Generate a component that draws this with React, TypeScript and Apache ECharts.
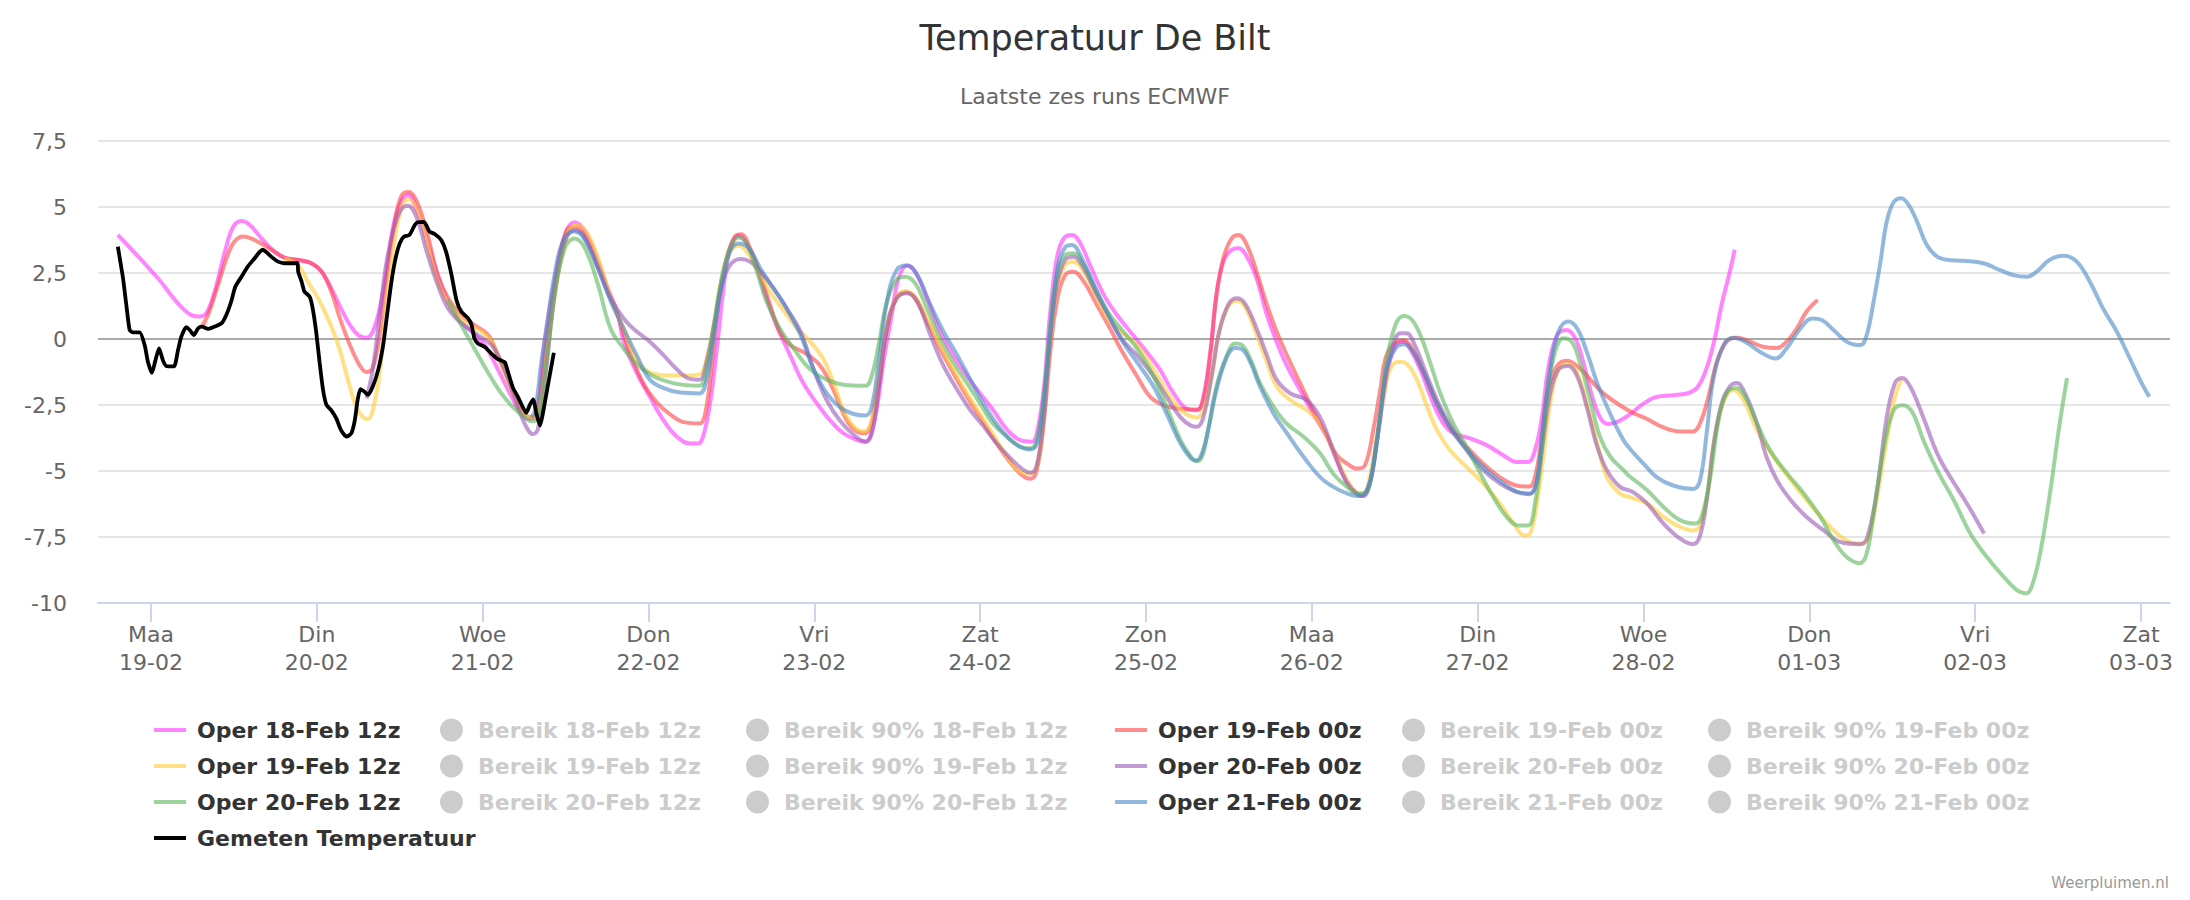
import React, { useEffect, useRef } from "react";
import * as echarts from "echarts";

const FONT = "'DejaVu Sans', 'Noto Sans', sans-serif";

// x values: hours since Mon 19-02 00:00 (local)
const dayNames = ["Maa", "Din", "Woe", "Don", "Vri", "Zat", "Zon", "Maa", "Din", "Woe", "Don", "Vri", "Zat"];
const dayDates = ["19-02", "20-02", "21-02", "22-02", "23-02", "24-02", "25-02", "26-02", "27-02", "28-02", "01-03", "02-03", "03-03"];
const tickHours = [0, 24, 48, 72, 96, 120, 144, 168, 192, 216, 240, 264, 288];

const runNames = ["18-Feb 12z", "19-Feb 00z", "19-Feb 12z", "20-Feb 00z", "20-Feb 12z", "21-Feb 00z"];

const gemeten: [number, number][] = [
  [-4.8, 3.5], [-4.05, 2.3], [-3.57, 1.29], [-3.09, 0.34], [-2.6, 0.25], [-1.64, 0.25], [-0.92, -0.23], [-0.43, -0.88],
  [0.14, -1.28], [0.63, -0.82], [1.16, -0.36], [1.74, -0.82], [2.2, -1.02], [3.33, -1.04], [3.9, -0.43], [4.39, 0.09],
  [5.1, 0.45], [5.6, 0.34], [6.22, 0.15], [6.8, 0.4], [7.38, 0.47], [8.25, 0.38], [9.2, 0.47], [10.2, 0.59], [10.9, 0.91],
  [11.6, 1.41], [12.2, 1.98], [13.1, 2.36], [14.0, 2.74], [15.0, 3.06], [15.7, 3.29], [16.2, 3.38], [16.7, 3.29],
  [17.4, 3.12], [18.4, 2.93], [19.3, 2.87], [21.2, 2.87], [21.3, 2.55], [21.8, 2.17], [22.2, 1.8], [22.97, 1.6],
  [23.4, 1.16], [23.9, 0.28], [24.4, -0.88], [24.9, -1.93], [25.4, -2.5], [26.1, -2.7], [26.8, -3.0], [27.5, -3.45],
  [28.3, -3.7], [29.0, -3.57], [29.5, -3.07], [29.9, -2.32], [30.3, -1.9], [30.9, -2.0], [31.4, -2.12], [32.1, -1.8],
  [32.9, -1.15], [33.6, -0.23], [34.1, 0.78], [34.8, 2.17], [35.4, 3.06], [36.0, 3.62], [36.6, 3.88], [37.4, 3.94],
  [38.2, 4.33], [38.6, 4.42], [39.5, 4.44], [40.3, 4.07], [41.1, 3.97], [42.0, 3.75], [42.7, 3.31], [43.5, 2.42],
  [44.2, 1.48], [44.9, 1.04], [45.9, 0.78], [46.4, 0.53], [46.8, 0.03], [47.3, -0.17], [48.3, -0.3], [49.3, -0.56],
  [50.2, -0.76], [51.2, -0.88], [51.7, -1.28], [52.4, -1.86], [53.1, -2.19], [53.8, -2.58], [54.3, -2.8], [54.8, -2.51],
  [55.3, -2.29], [55.8, -2.84], [56.3, -3.28], [56.7, -2.84], [57.5, -1.67], [58.3, -0.52],
];

const run1812: [number, number][] = [
  [-4.8, 3.94], [1.0, 2.3], [3.9, 1.35], [5.8, 0.91], [7.0, 0.85], [8.0, 0.97], [9.2, 1.79], [10.7, 3.31], [11.9, 4.25],
  [13.1, 4.47], [14.3, 4.32], [16.0, 3.81], [17.9, 3.31], [19.3, 3.08], [21.3, 2.99], [23.2, 2.87], [24.7, 2.55],
  [26.1, 1.92], [27.6, 1.1], [28.8, 0.53], [30.0, 0.15], [31.2, 0.05], [32.1, 0.28], [33.1, 1.16], [34.1, 2.55],
  [35.0, 4.19], [36.0, 5.1], [37.2, 5.45], [38.6, 4.83], [40.1, 3.6], [41.5, 2.42], [43.0, 1.41], [44.4, 0.78],
  [46.4, 0.28], [48.3, -0.23], [50.2, -1.15], [52.2, -2.19], [53.6, -2.84], [54.6, -3.03], [55.6, -2.97], [57.0, -0.1],
  [58.4, 2.17], [59.9, 3.94], [61.3, 4.42], [62.8, 4.07], [64.7, 2.93], [66.1, 1.92], [67.6, 0.91], [68.4, -0.1],
  [70.3, -1.28], [72.2, -2.19], [74.2, -3.09], [76.1, -3.7], [78.0, -3.96], [79.2, -3.96], [79.9, -3.7], [80.9, -2.45],
  [81.9, -0.36], [82.8, 1.79], [83.7, 3.31], [85.0, 3.91], [86.2, 3.62], [87.7, 2.67], [89.1, 1.54], [90.5, 0.53],
  [92.5, -0.62], [94.4, -1.67], [96.4, -2.45], [98.3, -3.09], [100.2, -3.57], [102.2, -3.83], [103.4, -3.89],
  [104.1, -3.7], [105.0, -2.7], [106.0, -0.88], [107.2, 0.91], [108.2, 2.3], [109.4, 2.78], [110.6, 2.55], [112.3, 1.54],
  [114.2, 0.28], [116.1, -0.62], [118.1, -1.41], [120.0, -2.06], [121.9, -2.7], [123.9, -3.44], [125.8, -3.83],
  [127.5, -3.89], [128.2, -3.57], [129.2, -1.93], [130.1, 0.91], [131.1, 3.06], [132.1, 3.81], [133.3, 3.94],
  [134.5, 3.62], [135.9, 2.8], [137.9, 1.67], [139.8, 0.91], [141.7, 0.28], [144.1, -0.49], [146.0, -1.15],
  [148.0, -2.06], [149.9, -2.64], [151.4, -2.7], [152.3, -2.19], [153.3, -0.49], [154.2, 1.67], [155.2, 2.93],
  [156.4, 3.38], [157.4, 3.44], [158.6, 3.12], [160.0, 2.3], [161.5, 0.91], [162.9, -0.1], [164.4, -1.02], [166.3, -1.93],
  [168.2, -2.84], [170.2, -3.7], [171.6, -4.6], [173.1, -5.4], [175.2, -5.93], [176.4, -5.45], [177.4, -3.92],
  [178.4, -2.14], [179.4, -0.72], [180.3, -0.17], [181.3, -0.1], [182.2, -0.36], [183.7, -1.15], [185.6, -2.45],
  [187.1, -3.22], [188.5, -3.57], [190.9, -3.76], [193.3, -4.02], [195.7, -4.4], [197.7, -4.66], [199.3, -4.66],
  [200.3, -4.21], [201.3, -2.97], [202.2, -1.15], [203.5, 0.15], [204.9, 0.34], [206.1, 0.03], [207.3, -0.88],
  [208.3, -1.93], [209.7, -2.97], [210.9, -3.22], [212.6, -3.09], [214.1, -2.84], [216.0, -2.45], [217.9, -2.19],
  [220.3, -2.13], [222.3, -2.06], [223.7, -1.86], [224.9, -1.28], [226.1, -0.23], [227.3, 1.29], [228.5, 2.55],
  [229.2, 3.38],
];

const run1900: [number, number][] = [
  [7.3, 0.45], [8.25, 0.91], [9.7, 2.05], [11.1, 3.18], [12.1, 3.69], [13.3, 3.88], [15.0, 3.75], [17.4, 3.38],
  [19.3, 3.08], [21.3, 2.99], [23.2, 2.87], [24.7, 2.55], [26.1, 1.79], [27.5, 0.66], [29.0, -0.36], [30.4, -1.08],
  [31.2, -1.25], [32.1, -1.08], [33.1, 0.15], [34.1, 2.3], [35.3, 4.44], [36.3, 5.45], [37.3, 5.57], [38.4, 5.25],
  [39.9, 4.07], [41.5, 2.42], [43.0, 1.54], [44.9, 0.91], [46.8, 0.53], [48.8, 0.15], [50.2, -0.62], [52.2, -1.8],
  [53.6, -2.7], [55.1, -2.97], [56.0, -2.7], [57.2, -0.23], [58.7, 2.42], [60.1, 4.07], [61.3, 4.25], [62.8, 3.94],
  [64.7, 2.8], [66.6, 1.5], [67.6, 0.85], [69.3, -0.5], [71.3, -1.7], [73.2, -2.4], [75.1, -2.85], [77.1, -3.15],
  [79.4, -3.2], [80.2, -2.84], [81.2, -0.88], [82.1, 1.41], [83.3, 3.06], [84.5, 3.88], [85.4, 3.97], [86.7, 3.44],
  [88.2, 2.42], [89.6, 1.29], [91.0, 0.28], [92.5, -0.23], [94.4, -0.49], [96.4, -0.88], [97.8, -1.41], [99.2, -2.19],
  [100.7, -3.09], [102.1, -3.5], [103.3, -3.57], [104.3, -3.18], [105.3, -1.67], [106.5, 0.4], [107.9, 1.54],
  [109.4, 1.77], [110.6, 1.54], [112.3, 0.66], [114.2, -0.36], [116.1, -1.28], [118.1, -2.19], [120.0, -2.97],
  [121.9, -3.76], [123.9, -4.52], [125.8, -5.1], [127.3, -5.29], [128.2, -4.97], [129.2, -3.18], [130.1, -0.62],
  [131.1, 1.41], [132.3, 2.42], [133.5, 2.55], [135.0, 2.17], [136.9, 1.29], [138.8, 0.4], [140.3, -0.36],
  [142.7, -1.41], [144.6, -2.19], [146.6, -2.51], [149.0, -2.64], [151.4, -2.67], [152.3, -2.32], [153.3, -0.62],
  [154.2, 1.67], [155.2, 3.06], [156.4, 3.81], [157.4, 3.94], [158.6, 3.56], [160.0, 2.55], [161.5, 1.29], [162.9, 0.28],
  [164.4, -0.62], [166.3, -1.67], [168.2, -2.7], [170.2, -3.7], [171.6, -4.4], [173.1, -4.72], [174.5, -4.91],
  [175.7, -4.78], [176.9, -3.44], [177.9, -1.93], [178.8, -0.62], [180.3, -0.1], [181.3, -0.05], [182.5, -0.36],
  [184.2, -1.28], [186.1, -2.45], [188.0, -3.35], [190.4, -4.09], [192.8, -4.72], [195.2, -5.23], [197.6, -5.55],
  [199.5, -5.59], [200.3, -5.23], [201.3, -3.7], [202.2, -1.93], [203.5, -1.02], [204.9, -0.82], [206.4, -1.02],
  [208.3, -1.54], [210.2, -2.06], [212.6, -2.51], [214.5, -2.8], [216.5, -3.03], [218.9, -3.35], [221.3, -3.5],
  [223.2, -3.5], [224.2, -3.18], [225.4, -2.19], [226.6, -0.88], [228.0, -0.1], [229.5, 0.05], [231.4, -0.1],
  [233.4, -0.3], [235.3, -0.34], [236.7, -0.1], [238.2, 0.4], [239.6, 1.04], [241.2, 1.48],
];

const run1912: [number, number][] = [
  [19.3, 3.05], [21.3, 2.8], [22.7, 2.17], [24.2, 1.54], [25.6, 0.78], [27.1, -0.23], [28.5, -1.54], [29.7, -2.58],
  [30.7, -2.97], [31.4, -3.03], [32.1, -2.7], [33.1, -1.28], [34.1, 1.41], [35.3, 3.81], [36.3, 5.0], [37.3, 5.29],
  [38.4, 4.95], [39.9, 3.69], [41.5, 2.17], [43.5, 1.16], [45.4, 0.66], [47.8, 0.28], [49.3, -0.1], [50.7, -1.02],
  [52.6, -2.19], [54.1, -2.84], [55.3, -2.99], [56.3, -2.7], [57.5, -0.23], [58.9, 2.42], [60.4, 4.07], [61.6, 4.32],
  [63.0, 4.07], [64.7, 3.06], [66.4, 1.67], [68.4, 0.4], [70.3, -0.76], [71.8, -1.21], [74.2, -1.37], [77.1, -1.38],
  [79.4, -1.34], [80.4, -0.76], [81.4, 0.53], [82.6, 2.3], [83.8, 3.31], [85.0, 3.53], [86.2, 3.31], [87.7, 2.67],
  [89.6, 1.79], [91.5, 1.1], [93.5, 0.4], [95.4, -0.1], [97.3, -0.76], [98.8, -1.67], [100.2, -2.7], [101.7, -3.31],
  [103.2, -3.5], [104.1, -3.25], [105.0, -1.93], [106.2, 0.15], [107.7, 1.48], [109.1, 1.82], [110.6, 1.6],
  [112.3, 0.78], [114.2, -0.23], [116.1, -1.15], [118.1, -2.06], [120.0, -2.84], [121.9, -3.63], [123.9, -4.46],
  [125.8, -5.04], [127.2, -5.1], [128.2, -4.85], [129.2, -2.97], [130.1, -0.23], [131.1, 1.92], [132.3, 2.8],
  [133.5, 2.93], [135.0, 2.55], [136.9, 1.54], [138.8, 0.66], [140.5, 0.25], [142.7, -0.23], [145.1, -1.15],
  [147.5, -2.19], [149.4, -2.77], [151.4, -2.97], [152.3, -2.7], [153.5, -1.41], [154.6, 0.28], [155.9, 1.23],
  [157.1, 1.45], [158.3, 1.23], [160.0, 0.15], [161.5, -0.88], [162.9, -1.8], [164.9, -2.32], [167.3, -2.7],
  [169.2, -3.22], [171.1, -4.21], [173.1, -5.34], [174.8, -5.85], [175.5, -5.85], [176.4, -5.23], [177.4, -3.7],
  [178.4, -2.19], [179.3, -1.15], [180.6, -0.86], [181.8, -0.95], [183.2, -1.54], [184.7, -2.58], [186.1, -3.44],
  [188.0, -4.21], [190.4, -4.85], [192.8, -5.47], [195.2, -6.23], [197.2, -6.99], [198.8, -7.44], [199.6, -7.37],
  [200.5, -6.36], [201.5, -4.46], [202.5, -2.45], [203.7, -1.15], [205.1, -0.95], [206.4, -1.28], [207.8, -2.45],
  [209.3, -3.96], [210.7, -5.23], [212.6, -5.85], [214.1, -6.0], [216.5, -6.23], [218.9, -6.74], [221.3, -7.12],
  [223.2, -7.25], [224.2, -7.06], [225.2, -6.0], [226.1, -4.08], [227.3, -2.58], [229.0, -1.93], [230.5, -2.32],
  [232.4, -3.44], [234.8, -4.46], [237.3, -5.34], [239.6, -6.1], [242.1, -6.86], [244.0, -7.37], [245.9, -7.69],
  [247.6, -7.75], [248.6, -7.5], [249.8, -6.0], [251.2, -3.83], [252.4, -2.19], [253.3, -1.54],
];

const run2000: [number, number][] = [
  [31.2, -2.25], [32.1, -1.15], [33.1, 0.91], [34.1, 2.93], [35.3, 4.32], [36.3, 4.95], [37.2, 5.05], [38.4, 4.63],
  [39.9, 3.31], [41.5, 2.05], [43.0, 1.16], [44.9, 0.6], [47.3, 0.15], [49.3, -0.23], [50.7, -0.88], [52.6, -2.19],
  [54.1, -3.22], [55.3, -3.6], [56.0, -3.41], [57.2, -1.15], [58.4, 1.67], [59.9, 3.69], [61.3, 4.13], [62.8, 3.81],
  [64.7, 2.67], [66.4, 1.6], [68.4, 0.78], [70.3, 0.28], [72.2, -0.1], [74.2, -0.62], [76.1, -1.15], [78.0, -1.51],
  [79.4, -1.54], [80.4, -0.88], [81.4, 0.4], [82.6, 2.05], [83.8, 2.8], [85.3, 3.03], [86.7, 2.93], [88.2, 2.55],
  [90.1, 1.92], [92.0, 1.16], [94.0, 0.28], [95.9, -1.15], [97.8, -2.32], [99.7, -3.09], [101.7, -3.63], [103.4, -3.89],
  [104.3, -3.57], [105.3, -1.93], [106.5, 0.4], [107.9, 1.54], [109.4, 1.73], [110.9, 1.41], [112.8, 0.15],
  [114.7, -1.02], [116.7, -1.93], [118.6, -2.7], [120.5, -3.31], [122.4, -3.96], [124.4, -4.52], [126.3, -4.97],
  [127.3, -5.07], [128.2, -4.78], [129.2, -2.97], [130.1, -0.1], [131.1, 2.05], [132.3, 3.0], [133.5, 3.12],
  [135.0, 2.67], [136.9, 1.67], [138.8, 0.78], [140.5, 0.0], [142.7, -0.62], [145.1, -1.41], [147.0, -2.19],
  [149.0, -2.97], [150.5, -3.28], [151.4, -3.32], [152.3, -2.97], [153.5, -1.41], [154.6, 0.28], [155.9, 1.29],
  [157.1, 1.54], [158.3, 1.35], [160.0, 0.4], [161.5, -0.62], [162.9, -1.54], [164.9, -2.06], [167.3, -2.32],
  [169.2, -2.97], [171.1, -4.21], [173.1, -5.47], [174.8, -5.91], [175.5, -5.95], [176.4, -5.47], [177.4, -3.83],
  [178.4, -1.93], [179.6, -0.36], [180.8, 0.22], [181.7, 0.22], [182.9, -0.23], [184.7, -1.41], [186.6, -2.58],
  [188.5, -3.44], [190.4, -4.21], [192.8, -4.97], [195.2, -5.47], [197.6, -5.79], [199.5, -5.85], [200.5, -5.47],
  [201.4, -3.96], [202.5, -2.06], [203.7, -1.15], [205.1, -1.02], [206.4, -1.41], [207.8, -2.58], [209.3, -4.08],
  [210.7, -4.97], [212.6, -5.6], [214.5, -5.8], [216.5, -6.23], [218.9, -6.99], [221.3, -7.56], [223.2, -7.77],
  [224.2, -7.44], [225.2, -6.0], [226.1, -4.08], [227.3, -2.45], [228.5, -1.8], [229.5, -1.67], [230.7, -2.06],
  [232.4, -3.18], [233.8, -4.46], [235.3, -5.34], [237.3, -6.1], [239.6, -6.74], [242.1, -7.25], [244.5, -7.69],
  [247.4, -7.77], [248.4, -7.5], [249.8, -5.72], [251.2, -2.97], [252.4, -1.67], [253.4, -1.48], [254.6, -1.8],
  [256.5, -2.97], [258.5, -4.33], [260.4, -5.23], [262.8, -6.23], [265.3, -7.37],
];

const run2012: [number, number][] = [
  [43.0, 1.48], [44.9, 0.53], [46.8, -0.36], [48.8, -1.28], [50.7, -2.06], [52.6, -2.64], [54.1, -2.97], [55.1, -3.12],
  [56.0, -2.97], [57.2, -0.88], [58.4, 1.67], [59.9, 3.44], [61.3, 3.81], [62.8, 3.44], [64.7, 2.05], [66.5, 0.4],
  [68.4, -0.36], [70.3, -0.95], [72.7, -1.41], [76.1, -1.7], [79.4, -1.77], [80.4, -1.15], [81.4, 0.4], [82.6, 2.3],
  [83.8, 3.44], [85.0, 3.84], [86.2, 3.62], [87.7, 2.55], [89.1, 1.41], [91.0, 0.4], [93.0, -0.36], [95.4, -1.15],
  [97.8, -1.54], [100.2, -1.73], [103.4, -1.77], [104.3, -1.41], [105.3, -0.23], [106.5, 1.41], [107.9, 2.24],
  [109.1, 2.36], [110.6, 2.11], [112.3, 1.16], [114.2, 0.03], [116.1, -0.88], [118.1, -1.67], [120.0, -2.45],
  [121.9, -3.22], [123.9, -3.7], [125.8, -4.08], [127.3, -4.14], [128.2, -3.83], [129.2, -2.19], [130.1, 0.4],
  [131.1, 2.42], [132.3, 3.18], [133.5, 3.25], [135.0, 2.8], [136.9, 1.79], [138.8, 0.91], [140.5, 0.35],
  [142.7, -0.36], [145.1, -1.41], [147.0, -2.58], [149.0, -3.83], [150.5, -4.46], [151.3, -4.63], [152.1, -4.46],
  [153.0, -3.44], [154.2, -1.8], [155.7, -0.62], [156.9, -0.17], [157.9, -0.23], [159.1, -0.76], [160.5, -1.67],
  [162.5, -2.58], [164.4, -3.22], [166.8, -3.7], [169.2, -4.33], [171.1, -5.1], [173.1, -5.6], [174.8, -5.85],
  [175.7, -5.83], [176.7, -5.1], [177.9, -2.84], [178.8, -0.88], [180.1, 0.53], [181.3, 0.87], [182.5, 0.72],
  [183.7, 0.15], [185.1, -0.88], [186.6, -2.06], [188.5, -3.22], [190.4, -4.08], [192.4, -5.1], [194.3, -6.0],
  [196.2, -6.74], [197.9, -7.06], [199.3, -7.06], [200.3, -6.23], [201.3, -4.21], [202.2, -1.93], [203.2, -0.49],
  [204.4, 0.03], [205.6, -0.1], [206.8, -0.88], [208.3, -2.32], [209.7, -3.7], [211.2, -4.46], [213.1, -4.97],
  [214.1, -5.23], [216.5, -5.72], [218.9, -6.36], [221.3, -6.86], [223.5, -6.99], [224.4, -6.74], [225.6, -5.34],
  [226.8, -3.18], [228.0, -2.06], [229.4, -1.86], [230.7, -2.19], [232.4, -3.18], [234.3, -4.21], [236.8, -5.1],
  [239.2, -5.85], [241.6, -6.74], [243.5, -7.62], [245.4, -8.26], [247.3, -8.49], [248.3, -8.13], [249.3, -6.61],
  [250.8, -4.08], [252.2, -2.7], [253.5, -2.51], [254.9, -2.77], [256.5, -3.83], [258.5, -4.97], [260.9, -6.1],
  [263.3, -7.37], [265.7, -8.26], [268.1, -9.0], [270.0, -9.5], [271.4, -9.63], [272.2, -9.37], [273.4, -8.13],
  [274.9, -5.72], [276.1, -3.44], [277.3, -1.48],
];

const run2100: [number, number][] = [
  [55.0, -2.97], [55.6, -2.7], [56.5, -0.88], [57.5, 0.91], [58.4, 2.42], [59.6, 3.69], [61.1, 4.07], [62.5, 3.88],
  [64.7, 2.67], [66.5, 1.45], [68.4, 0.4], [70.3, -0.62], [72.2, -1.54], [74.2, -1.86], [76.6, -2.03], [79.4, -2.06],
  [80.4, -1.54], [81.4, 0.03], [82.6, 2.05], [83.8, 3.31], [85.0, 3.62], [86.5, 3.44], [88.2, 2.67], [90.1, 1.92],
  [92.0, 1.16], [94.0, 0.15], [95.9, -1.15], [97.8, -2.06], [99.7, -2.58], [101.7, -2.84], [103.4, -2.9], [104.3, -2.58],
  [105.3, -0.88], [106.5, 1.41], [107.9, 2.61], [109.4, 2.78], [110.9, 2.42], [112.8, 1.29], [114.7, 0.28],
  [116.7, -0.62], [118.6, -1.54], [120.5, -2.45], [122.4, -3.22], [124.4, -3.83], [126.3, -4.14], [127.5, -4.18],
  [128.5, -3.7], [129.4, -1.8], [130.4, 0.91], [131.3, 2.8], [132.3, 3.47], [133.3, 3.56], [134.7, 3.06], [136.9, 1.79],
  [138.8, 0.78], [140.5, -0.05], [142.7, -0.88], [145.1, -1.8], [147.0, -2.84], [149.0, -3.96], [150.5, -4.52],
  [151.3, -4.6], [152.1, -4.33], [153.0, -3.44], [154.2, -1.93], [155.7, -0.69], [156.9, -0.34], [157.9, -0.39],
  [159.1, -0.88], [160.5, -1.8], [162.5, -2.84], [164.4, -3.57], [166.8, -4.46], [169.2, -5.23], [171.1, -5.6],
  [173.1, -5.85], [174.8, -5.95], [175.7, -5.85], [176.7, -5.1], [177.9, -2.97], [178.8, -1.15], [180.1, -0.36],
  [181.3, -0.2], [182.5, -0.43], [184.2, -1.28], [186.1, -2.45], [188.5, -3.57], [190.9, -4.33], [193.3, -4.97],
  [195.7, -5.47], [197.7, -5.79], [199.5, -5.88], [200.5, -5.47], [201.4, -3.44], [202.5, -1.15], [203.7, 0.28],
  [205.1, 0.66], [206.4, 0.4], [207.8, -0.49], [209.3, -1.67], [211.2, -2.84], [213.1, -3.83], [214.5, -4.3],
  [216.0, -4.72], [217.9, -5.23], [220.3, -5.55], [223.2, -5.68], [224.2, -5.34], [225.2, -3.44], [226.1, -1.54],
  [227.6, -0.23], [229.0, 0.05], [230.7, -0.1], [232.9, -0.49], [235.1, -0.74], [236.7, -0.36], [238.7, 0.4],
  [240.4, 0.78], [241.8, 0.72], [243.5, 0.34], [245.4, -0.1], [247.4, -0.23], [248.3, 0.15], [249.3, 1.41],
  [250.3, 2.93], [251.2, 4.44], [252.2, 5.18], [253.3, 5.33], [254.4, 5.07], [255.6, 4.44], [257.0, 3.56],
  [258.5, 3.12], [259.9, 3.0], [262.3, 2.96], [265.2, 2.87], [267.6, 2.61], [269.5, 2.42], [271.5, 2.36],
  [272.9, 2.55], [274.8, 3.0], [276.8, 3.15], [278.7, 2.93], [280.6, 2.17], [282.5, 1.16], [284.5, 0.28],
  [286.4, -0.74], [288.1, -1.67], [289.2, -2.19],
];

const runData = [run1812, run1900, run1912, run2000, run2012, run2100];
const runColors = [
  "rgba(255,51,255,0.6)",
  "rgba(255,68,68,0.6)",
  "rgba(255,204,51,0.6)",
  "rgba(155,89,182,0.6)",
  "rgba(92,184,92,0.6)",
  "rgba(74,137,200,0.6)",
];

const yTickColors = ["#e6e6e6", "#e6e6e6", "#e6e6e6", "#e6e6e6", "#aaaaaa", "#e6e6e6", "#e6e6e6", "#e6e6e6"];

function buildOption() {
  const series: any[] = [];
  runNames.forEach((rn, i) => {
    series.push({
      name: "Oper " + rn,
      type: "line",
      data: runData[i],
      color: runColors[i],
      showSymbol: false,
      symbol: "none",
      smooth: 0.4,
      lineStyle: { width: 4, color: runColors[i] },
      emphasis: { disabled: true },
      z: 2,
    });
    series.push({ name: "Bereik " + rn, type: "line", data: [], symbol: "none", color: "#cccccc" });
    series.push({ name: "Bereik 90% " + rn, type: "line", data: [], symbol: "none", color: "#cccccc" });
  });
  series.push({
    name: "Gemeten Temperatuur",
    type: "line",
    data: gemeten,
    color: "#000000",
    showSymbol: false,
    symbol: "none",
    smooth: 0.2,
    lineStyle: { width: 3.8, color: "#000000" },
    emphasis: { disabled: true },
    z: 3,
  });

  const textBase = { fontFamily: FONT, fontSize: 22, fontWeight: "bold", color: "#333333", lineHeight: 26 };
  const lineLegend = (left: number, names: string[]) => ({
    orient: "vertical",
    left,
    top: 717,
    padding: 0,
    itemGap: 10,
    icon: "rect",
    itemWidth: 32,
    itemHeight: 4,
    itemStyle: { borderWidth: 0 },
    inactiveColor: "#cccccc",
    data: names,
    textStyle: { ...textBase, padding: [0, 0, 0, 6] },
  });
  const circleLegend = (left: number, names: string[]) => {
    const selected: Record<string, boolean> = {};
    names.forEach((n) => (selected[n] = false));
    return {
      orient: "vertical",
      left,
      top: 717,
      padding: 0,
      itemGap: 10,
      icon: "circle",
      itemWidth: 43,
      itemHeight: 23,
      itemStyle: { borderWidth: 0 },
      inactiveColor: "#cccccc",
      data: names,
      selected,
      textStyle: { ...textBase },
    };
  };
  const r12 = [runNames[0], runNames[2], runNames[4]];
  const r00 = [runNames[1], runNames[3], runNames[5]];

  return {
    animation: false,
    backgroundColor: "#ffffff",
    title: [
      {
        text: "Temperatuur De Bilt",
        left: "center",
        top: 20,
        padding: 0,
        textStyle: { fontFamily: FONT, fontSize: 35, fontWeight: "normal", color: "#333333" },
      },
      {
        text: "Laatste zes runs ECMWF",
        left: "center",
        top: 85,
        padding: 0,
        textStyle: { fontFamily: FONT, fontSize: 22, fontWeight: "normal", color: "#666666" },
      },
    ],
    legend: [
      lineLegend(154, [...r12.map((r) => "Oper " + r), "Gemeten Temperatuur"]),
      circleLegend(440, r12.map((r) => "Bereik " + r)),
      circleLegend(746, r12.map((r) => "Bereik 90% " + r)),
      lineLegend(1115, r00.map((r) => "Oper " + r)),
      circleLegend(1402, r00.map((r) => "Bereik " + r)),
      circleLegend(1708, r00.map((r) => "Bereik 90% " + r)),
    ],
    grid: { left: 98, right: 20, top: 141, bottom: 297, containLabel: false },
    xAxis: {
      type: "value",
      min: -7.67,
      max: 292.2,
      axisLine: { show: true, onZero: false, lineStyle: { color: "#ccd6eb", width: 2 } },
      axisTick: { show: true, customValues: tickHours, length: 19, lineStyle: { color: "#ccd6eb", width: 2 } },
      axisLabel: {
        customValues: tickHours,
        formatter: (v: number) => {
          const i = Math.round(v / 24);
          return dayNames[i] + "\n" + dayDates[i];
        },
        margin: 17,
        lineHeight: 28,
        fontFamily: FONT,
        fontSize: 22,
        color: "#666666",
      },
      splitLine: { show: false },
    },
    yAxis: {
      type: "value",
      min: -10,
      max: 7.5,
      interval: 2.5,
      axisLine: { show: false },
      axisTick: { show: false },
      axisLabel: {
        formatter: (v: number) => String(v).replace(".", ","),
        margin: 31,
        fontFamily: FONT,
        fontSize: 22,
        color: "#666666",
      },
      splitLine: { show: true, lineStyle: { color: yTickColors, width: 2 } },
    },
    graphic: [
      {
        type: "text",
        right: 21,
        top: 875,
        style: { text: "Weerpluimen.nl", fontFamily: FONT, fontSize: 15, fill: "#999999" },
      },
    ],
    series,
  };
}

export default function App() {
  const ref = useRef<HTMLDivElement>(null);
  useEffect(() => {
    if (!ref.current) return;
    const chart = echarts.init(ref.current, null, { renderer: "svg" });
    chart.setOption(buildOption() as any);
    return () => chart.dispose();
  }, []);
  return (
    <div
      ref={ref}
      style={{ position: "fixed", left: 0, top: 0, width: 2190, height: 900, background: "#ffffff" }}
    />
  );
}
